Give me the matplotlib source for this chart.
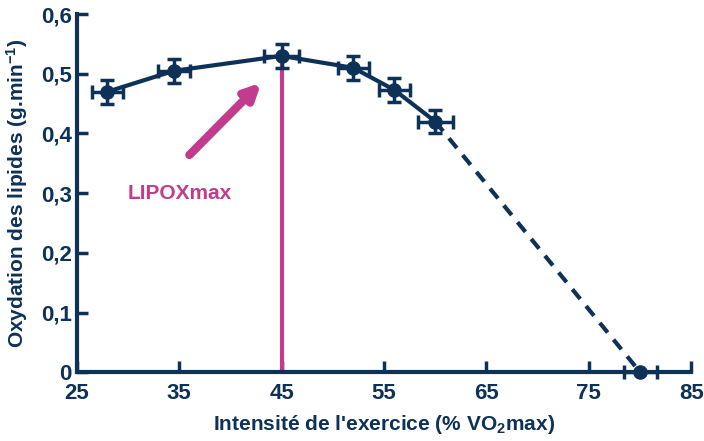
import matplotlib
matplotlib.use("Agg")
import matplotlib.pyplot as plt
from matplotlib import font_manager

NAVY, PINK = "#0e3158", "#c23b8c"
FAM = "Liberation Sans Narrow"
names = {f.name for f in font_manager.fontManager.ttflist}
if FAM not in names:
    FAM = "Liberation Sans"
plt.rcParams.update({"font.family": FAM, "font.weight": "bold",
                     "axes.labelweight": "bold",
                     "mathtext.fontset": "custom", "mathtext.rm": f"{FAM}:bold",
                     "mathtext.bf": f"{FAM}:bold", "mathtext.it": f"{FAM}:bold"})

# oxydation des lipides vs intensité
intensity = [28, 34.5, 45, 52, 56, 60]
fat_ox = [0.47, 0.505, 0.53, 0.51, 0.473, 0.42]
x_err = [1.5, 1.6, 1.7, 1.5, 1.5, 1.7]
y_err = [0.02, 0.02, 0.02, 0.02, 0.02, 0.02]
end_x, end_y, end_xerr = 80, 0.0, 1.6
lipoxmax_x, lipoxmax_y = 45, 0.53

xticks = [25, 35, 45, 55, 65, 75, 85]
yticks = [0, 0.1, 0.2, 0.3, 0.4, 0.5, 0.6]
ytick_labels = ["0", "0,1", "0,2", "0,3", "0,4", "0,5", "0,6"]

fig = plt.figure(figsize=(7.04, 4.41), dpi=100)
ax = fig.add_axes([0.109, 0.156, 0.873, 0.812])

ax.plot([lipoxmax_x, lipoxmax_x], [0, lipoxmax_y], color=PINK, lw=3, zorder=2)
ax.plot([intensity[-1], end_x], [fat_ox[-1], end_y], color=NAVY, lw=3, ls=(0, (3, 2.2)), zorder=3)
ax.plot(intensity, fat_ox, color=NAVY, lw=3, zorder=3)
ax.errorbar(intensity, fat_ox, xerr=x_err, yerr=y_err, fmt="o", color=NAVY, ms=9.5,
            elinewidth=2.5, capsize=5, capthick=2.5, zorder=4)
ax.errorbar([end_x], [end_y], xerr=[end_xerr], fmt="o", color=NAVY, ms=9.5,
            elinewidth=2.5, capsize=5, capthick=2.5, zorder=4, clip_on=False)

ax.annotate("", xy=(43.0, 0.485), xytext=(36.0, 0.364),
            arrowprops=dict(arrowstyle="-|>,head_length=0.9,head_width=0.45", color=PINK, lw=6,
                            shrinkA=0, shrinkB=0))
ax.text(35.1, 0.30, "LIPOXmax", color=PINK, fontsize=15, fontweight="bold", ha="center", va="center")

ax.set_xlim(25, 85); ax.set_ylim(0, 0.6)
ax.set_xticks(xticks); ax.set_yticks(yticks)
ax.set_yticklabels(ytick_labels)
for s in ["top", "right"]:
    ax.spines[s].set_visible(False)
for s in ["left", "bottom"]:
    ax.spines[s].set_color(NAVY); ax.spines[s].set_linewidth(3)
ax.tick_params(direction="in", length=8, width=2.5, color=NAVY, labelcolor=NAVY, labelsize=16)
ax.tick_params(axis="x", pad=8)
ax.set_xlabel("Intensité de l'exercice (% VO$_2$max)", fontsize=15, color=NAVY, labelpad=6)
ax.set_ylabel("Oxydation des lipides (g.min$^{-1}$)", fontsize=15, color=NAVY, labelpad=8)

fig.savefig("out.png", dpi=100)
